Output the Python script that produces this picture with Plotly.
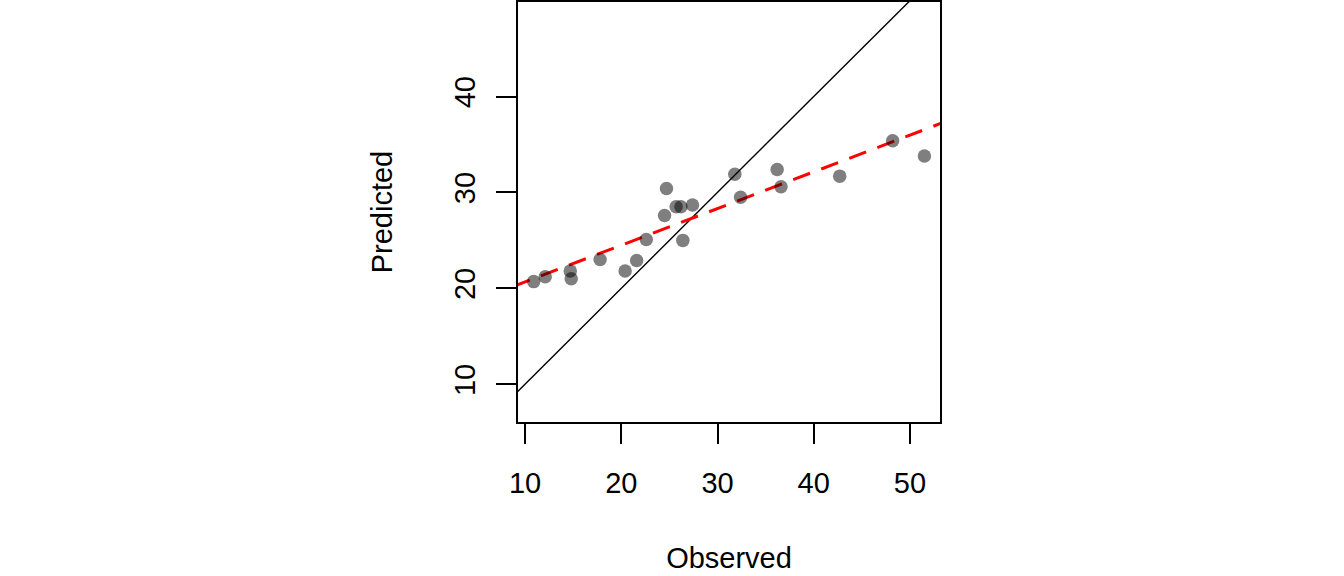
import numpy as np
import plotly.graph_objects as go

# observed vs predicted values
observed = [10.9, 12.1, 14.7, 14.8, 17.8, 20.4, 21.6, 22.6, 24.5, 24.7, 25.7,
            26.2, 26.4, 27.4, 31.8, 32.4, 36.2, 36.6, 42.7, 48.2, 51.5]
predicted = [20.7, 21.2, 21.8, 21.0, 23.0, 21.8, 22.9, 25.1, 27.6, 30.4, 28.5,
             28.5, 25.0, 28.7, 31.9, 29.5, 32.4, 30.6, 31.7, 35.4, 33.8]

x_ticks = [10, 20, 30, 40, 50]
y_ticks = [10, 20, 30, 40]

# least-squares fit of predicted on observed
slope, intercept = np.polyfit(observed, predicted, 1)
line_x = [0, 60]

font = dict(family="Liberation Sans, Arial, sans-serif", size=29, color="black")

fig = go.Figure()

# 1:1 line
fig.add_trace(go.Scatter(x=line_x, y=line_x, mode="lines",
                         line=dict(color="black", width=1.4),
                         hoverinfo="skip"))

# fitted line
fig.add_trace(go.Scatter(x=line_x, y=[intercept + slope * v for v in line_x],
                         mode="lines",
                         line=dict(color="red", width=3, dash="18px,12px"),
                         hoverinfo="skip"))

fig.add_trace(go.Scatter(x=observed, y=predicted, mode="markers",
                         marker=dict(color="rgba(0,0,0,0.5)", size=13.5, line=dict(width=0))))

axis_style = dict(showgrid=False, zeroline=False, showline=True, mirror=True,
                  linecolor="black", linewidth=1.5, ticks="outside", ticklen=20,
                  tickwidth=1.5, tickcolor="black", tickfont=font)

fig.update_xaxes(range=[9.27, 53.12], tickvals=x_ticks, ticklabelstandoff=14,
                 title=dict(text="Observed", font=font, standoff=50), **axis_style)
fig.update_yaxes(range=[6.06, 49.86], tickvals=y_ticks, tickangle=-90,
                 ticklabelstandoff=10,
                 title=dict(text="Predicted", font=font, standoff=48), **axis_style)

fig.update_layout(width=1344, height=576, showlegend=False,
                  plot_bgcolor="white", paper_bgcolor="white",
                  margin=dict(l=518, r=404, t=0, b=154))

# page body margin would push the figure 8px down and right
fig.write_html("out.html", config={"displayModeBar": False},
               post_script="document.body.style.margin='0';")
